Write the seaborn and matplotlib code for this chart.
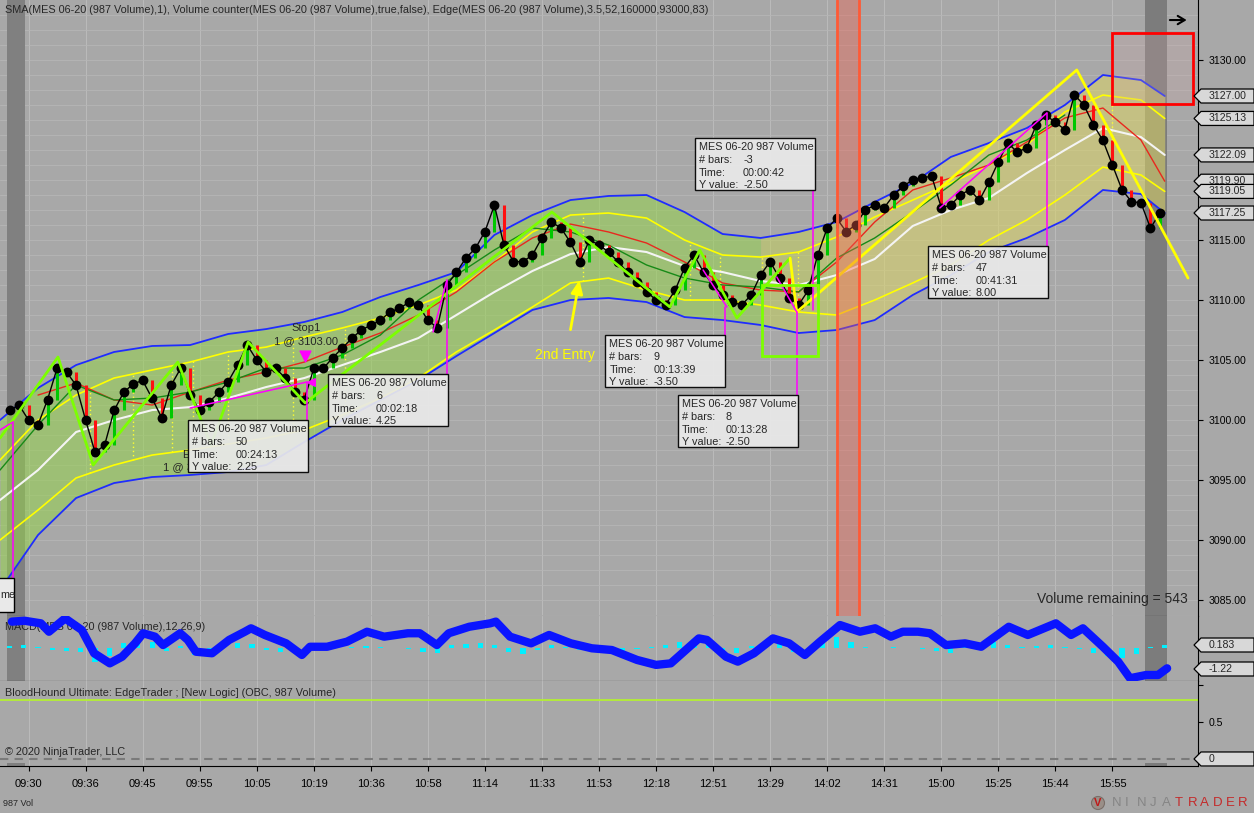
import numpy as np
import matplotlib
matplotlib.use("Agg")
import matplotlib.pyplot as plt
from matplotlib.patches import Rectangle, Polygon, Ellipse
from matplotlib.transforms import Bbox
import seaborn as sns

sns.set_style("white")
plt.rcParams['font.family'] = ['Liberation Sans', 'DejaVu Sans']

BG = '#a8a8a8'

# ---- price data (close every 2nd bar) ----
close_bars = list(range(2, 246, 2))
close_prices = [
    3100.8, 3101.25, 3100.0, 3099.6, 3101.7, 3104.3, 3104.0, 3102.9, 3100.0, 3097.3,
    3097.9, 3100.8, 3102.3, 3103.0, 3103.3, 3101.8, 3100.2, 3102.9, 3104.3, 3102.1,
    3100.8, 3101.5, 3102.3, 3103.2, 3104.6, 3106.25, 3105.0, 3104.0, 3104.3, 3103.5,
    3102.3, 3101.7, 3104.3, 3104.3, 3105.2, 3106.0, 3106.8, 3107.5, 3107.9, 3108.3,
    3109.0, 3109.3, 3109.8, 3109.6, 3108.3, 3107.7, 3111.25, 3112.3, 3113.5, 3114.3,
    3115.7, 3117.9, 3114.6, 3113.2, 3113.2, 3113.75, 3115.2, 3116.5, 3116.0, 3114.8,
    3113.2, 3115.0, 3114.6, 3114.0, 3113.2, 3112.3, 3111.5, 3110.7, 3110.0, 3109.6,
    3110.8, 3112.7, 3113.75, 3112.3, 3111.25, 3110.4, 3109.8, 3109.6, 3110.4, 3112.1,
    3113.2, 3111.8, 3110.2, 3109.6, 3110.8, 3113.75, 3116.0, 3116.8, 3115.7, 3116.25,
    3117.5, 3117.9, 3117.7, 3118.75, 3119.5, 3120.0, 3120.2, 3120.3, 3117.7, 3117.9,
    3118.75, 3119.2, 3118.3, 3119.8, 3121.5, 3123.1, 3122.3, 3122.7, 3124.6, 3125.4,
    3124.8, 3124.2, 3127.1, 3126.25, 3124.6, 3123.3, 3121.25, 3119.2, 3118.2, 3118.1,
    3116.0, 3117.25,
]

# ---- Edge bands ----
band_bars = [0, 8, 16, 24, 32, 40, 48, 56, 64, 72, 80, 88, 96, 104, 112, 120,
             128, 136, 144, 152, 160, 168, 176, 184, 192, 200, 208, 216, 224, 232, 240, 245]
blue_upper = [3100.0, 3102.67, 3104.58, 3105.67, 3106.17, 3106.25, 3107.17, 3107.58,
              3108.17, 3109.0, 3110.25, 3111.25, 3112.33, 3115.42, 3117.08, 3118.33,
              3118.67, 3118.75, 3117.33, 3115.5, 3115.17, 3115.67, 3116.5, 3118.17,
              3119.75, 3121.92, 3123.08, 3124.33, 3126.25, 3128.75, 3128.33, 3127.0]
blue_lower = [3085.83, 3090.42, 3093.5, 3094.75, 3095.25, 3095.42, 3095.67, 3096.25,
              3098.17, 3100.0, 3101.67, 3103.33, 3105.33, 3107.25, 3109.17, 3110.0,
              3110.17, 3109.83, 3108.58, 3108.33, 3107.92, 3107.25, 3107.5, 3108.33,
              3110.42, 3112.08, 3114.0, 3115.17, 3116.67, 3119.17, 3118.83, 3117.25]
mid_line = [3093.33, 3095.83, 3099.0, 3100.0, 3100.83, 3101.08, 3101.83, 3102.75,
            3103.5, 3104.58, 3105.67, 3106.83, 3108.75, 3110.67, 3112.42, 3113.83,
            3114.42, 3114.0, 3112.83, 3112.33, 3111.58, 3111.25, 3112.08, 3113.42,
            3116.17, 3117.5, 3118.5, 3120.58, 3122.5, 3124.33, 3123.58, 3122.09]
yellow_upper = [3096.67, 3100.0, 3102.08, 3103.5, 3104.17, 3104.83, 3105.67, 3106.08,
                3106.92, 3107.67, 3108.5, 3109.58, 3110.83, 3113.17, 3115.67, 3117.08,
                3117.25, 3116.83, 3115.0, 3113.75, 3113.58, 3114.0, 3115.25, 3116.92,
                3118.33, 3119.75, 3121.25, 3122.92, 3125.67, 3127.08, 3126.67, 3125.13]
yellow_lower = [3090.0, 3092.5, 3095.17, 3096.25, 3097.08, 3097.5, 3098.0, 3098.5,
                3099.17, 3100.42, 3101.83, 3103.5, 3105.67, 3107.5, 3109.42, 3111.42,
                3111.83, 3110.83, 3110.0, 3110.0, 3109.58, 3109.0, 3108.75, 3110.0,
                3111.42, 3112.92, 3115.0, 3116.67, 3118.75, 3121.08, 3120.42, 3119.05]
red_line = [np.nan, 3102.08, 3103.08, 3101.67, 3101.25, 3102.33, 3103.33, 3104.0,
            3104.83, 3106.08, 3107.25, 3108.75, 3110.67, 3113.17, 3115.17, 3116.33,
            3115.67, 3114.75, 3113.17, 3111.42, 3110.83, 3110.67, 3113.17, 3116.5,
            3119.17, 3120.17, 3121.25, 3123.17, 3125.17, 3126.0, 3123.33, 3119.9]
green_line = [3095.83, 3099.58, 3102.92, 3101.67, 3101.83, 3102.33, 3103.17, 3104.33,
              3104.33, 3105.42, 3107.08, 3110.0, 3112.08, 3114.17, 3116.0, 3115.67,
              3114.58, 3112.92, 3111.83, 3111.25, 3111.08, 3110.67, 3113.5, 3115.17,
              3117.33, 3119.58, 3122.08, 3123.33, 3125.42, np.nan, np.nan, np.nan]

# ---- MACD ----
macd_bars = [2.5, 5.2, 8.6, 10.3, 13.7, 17.2, 19.8, 23.1, 25.7, 28.4, 30.1, 32.6, 34.3,
             37.9, 39.5, 41.2, 44.6, 48.2, 51.5, 52.8, 55.7, 60.2, 63.5, 65.2, 68.8,
             73.0, 77.2, 80.8, 85.8, 88.3, 91.9, 94.4, 98.7, 103.1, 104.3, 107.3, 111.7,
             115.5, 120.1, 124.5, 128.7, 134.0, 138.0, 141.1, 147.0, 148.7, 152.7, 155.2,
             158.6, 162.6, 166.0, 169.3, 172.5, 176.7, 180.9, 184.1, 187.4, 189.9, 193.1,
             195.6, 199.0, 203.0, 206.4, 212.2, 216.2, 222.1, 225.3, 227.8, 232.0, 235.2,
             237.7, 241.1, 243.6, 245.5]
macd_values = [1.55, 1.60, 1.45, 0.96, 1.74, 1.06, -0.30, -0.89, -0.50, 0.28, 0.87, 0.67,
               0.18, 0.87, 0.48, -0.21, -0.30, 0.48, 0.96, 1.16, 0.77, 0.28, -0.40, 0.08,
               0.08, 0.38, 0.96, 0.67, 0.87, 0.87, 0.18, 0.87, 1.25, 1.45, 1.55, 0.67,
               0.28, 0.77, 0.28, -0.01, -0.11, -0.69, -0.98, -0.89, 0.57, 0.48, -0.50,
               -0.79, -0.30, 0.57, 0.28, -0.40, 0.38, 1.35, 0.96, 1.16, 0.67, 0.96, 0.96,
               0.87, 0.18, 0.28, 0.08, 1.25, 0.77, 1.45, 0.77, 1.16, 0.08, -0.79, -1.76,
               -1.57, -1.57, -1.18]
hist_bars = list(range(2, 246, 3))
hist_values = [0.12, 0.18, 0.06, -0.12, -0.18, -0.23, -0.82, -0.47, 0.29, 0.53,
               0.35, -0.18, 0.12, -0.41, -0.29, 0.18, 0.29, 0.23, -0.12, -0.23,
               -0.29, 0.12, 0.18, 0.06, 0.06, 0.12, 0.06, 0.0, -0.06, -0.23,
               -0.29, 0.18, 0.23, 0.29, 0.18, -0.23, -0.35, -0.12, 0.18, 0.06,
               -0.12, -0.23, -0.29, -0.18, -0.06, 0.06, 0.18, 0.35, 0.53, 0.23,
               -0.18, -0.29, 0.12, 0.41, 0.23, -0.23, -0.35, 0.29, 0.64, 0.35,
               0.06, 0.0, 0.06, 0.0, -0.06, -0.18, -0.29, 0.12, 0.23, 0.35,
               0.18, 0.06, 0.12, 0.18, 0.06, -0.06, -0.29, -0.47, -0.58, -0.35,
               0.06, 0.18]
bloodhound_level = 0.8

# ---- x axis ----
tick_bars = list(range(6, 235, 12))
tick_labels = ['09:30', '09:36', '09:45', '09:55', '10:05', '10:19', '10:36', '10:58',
               '11:14', '11:33', '11:53', '12:18', '12:51', '13:29', '14:02', '14:31',
               '15:00', '15:25', '15:44', '15:55']

# ---- drawing objects ----
zigzag_bars = [0.0, 12.2, 19.6, 37.4, 44.4, 52.2, 64.2, 116.1, 140.9, 147.2, 155.0, 166.2]
zigzag_prices = [3098.5, 3105.25, 3096.25, 3104.83, 3097.92, 3106.5, 3101.42, 3117.33,
                 3109.42, 3114.17, 3108.5, 3113.5]
trend_bars = [166.2, 167.6, 226.5, 249.9]
trend_prices = [3113.5, 3109.0, 3129.17, 3111.83]
ruler_segments = [
    (0.0, 3099.17, 2.7, 3099.83), (2.7, 3099.83, 2.7, 3086.83),
    (40.0, 3101.0, 64.6, 3103.17), (64.6, 3103.17, 64.6, 3100.0),
    (91.1, 3107.33, 94.0, 3111.67), (94.0, 3111.67, 94.0, 3103.83),
    (171.0, 3119.17, 171.0, 3109.17),
    (147.9, 3112.5, 152.9, 3109.42), (152.5, 3109.42, 152.5, 3107.08),
    (163.4, 3111.92, 167.6, 3109.0), (167.6, 3109.0, 167.6, 3102.08),
    (197.7, 3117.67, 220.2, 3125.58), (220.2, 3125.58, 220.2, 3114.5),
]
info_boxes = [
    (39.55, 3100.0, '50', '00:24:13', '2.25'),
    (69.0, 3103.83, '6', '00:02:18', '4.25'),
    (146.2, 3123.5, '-3', '00:00:42', '-2.50'),
    (127.3, 3107.08, '9', '00:13:39', '-3.50'),
    (142.6, 3102.08, '8', '00:13:28', '-2.50'),
    (195.2, 3114.5, '47', '00:41:31', '8.00'),
]
dotted_bars = [18.9, 28.0, 36.2, 40.6, 48.0, 61.6, 72.6, 122.6, 145.1, 151.5, 160.3,
               167.9, 233.9]
price_flags = [3127.00, 3125.13, 3122.09, 3119.90, 3119.05, 3117.25]
macd_flags = [0.183, -1.22]

fig = plt.figure(figsize=(12.54, 8.13), dpi=100, facecolor=BG)
ax = fig.add_axes([0, 0.24231, 0.95534, 0.75769])
axm = fig.add_axes([0, 0.16236, 0.95534, 0.07995], sharex=ax)
axb = fig.add_axes([0, 0.05781, 0.95534, 0.10455], sharex=ax)

for a in (ax, axm, axb):
    a.set_facecolor(BG)
    for s in a.spines.values():
        s.set_visible(False)
    a.spines['right'].set_visible(True)
    a.spines['bottom'].set_visible(True)
    a.spines['right'].set_color('black')
    a.spines['bottom'].set_color('black')
    for tb in tick_bars:
        a.axvline(tb, color='#bababa', lw=0.8, zorder=0)

ax.set_xlim(0, 252)
ax.set_ylim(3083.67, 3135)
axm.set_ylim(-1.922, 1.879)
axb.set_ylim(-0.095, 1.054)

for lev in np.arange(3083.75, 3135, 1.25):
    ax.axhline(lev, color='#b6b6b6', lw=0.6, zorder=0)

# session stripes
for a in (ax, axm):
    a.axvspan(1.5, 5.3, color='#808080', lw=0, zorder=0.5)
    a.axvspan(240.8, 245.5, color='#7c7c7c', lw=0, zorder=0.5)
axb.axvspan(1.5, 5.3, ymax=0.04, color='#808080', lw=0, zorder=0.5)
axb.axvspan(240.8, 245.5, ymax=0.04, color='#7c7c7c', lw=0, zorder=0.5)

# band fill
ax.fill_between(band_bars[:21], blue_upper[:21], blue_lower[:21], color='#95d24c', alpha=0.55, lw=0, zorder=1)
ax.fill_between(band_bars[20:23], blue_upper[20:23], blue_lower[20:23], color='#c2d05a', alpha=0.55, lw=0, zorder=1)
ax.fill_between(band_bars[22:], blue_upper[22:], blue_lower[22:], color='#dcd466', alpha=0.55, lw=0, zorder=1)

for b in dotted_bars:
    y0 = np.interp(b, band_bars, yellow_upper)
    y1 = np.interp(b, band_bars, yellow_lower)
    ax.vlines(b, y1, y0, colors='#ffff30', linestyles=(0, (1, 2)), lw=1, zorder=1.5)

for vals, col, lw in [(blue_upper, '#1f2cff', 1.3), (blue_lower, '#1f2cff', 1.3),
                      (yellow_upper, '#ffff00', 1.2), (yellow_lower, '#ffff00', 1.2),
                      (mid_line, '#f4f4f4', 1.5), (red_line, '#e8281e', 1.0),
                      (green_line, '#178a17', 1.0)]:
    sns.lineplot(x=band_bars, y=vals, color=col, lw=lw, ax=ax, estimator=None,
                 sort=False, zorder=2, legend=False)

# candles + SMA(1) dots
opens = [close_prices[0]] + close_prices[:-1]
colors = ['#00c800' if c >= o else '#ff1010' for o, c in zip(opens, close_prices)]
ax.vlines(close_bars, opens, close_prices, colors=colors, lw=2.2, zorder=3)
sns.lineplot(x=close_bars, y=close_prices, color='black', lw=1.0, ax=ax, estimator=None,
             sort=False, zorder=3.5, legend=False)
sns.scatterplot(x=close_bars, y=close_prices, s=50, color='black', linewidth=0,
                ax=ax, zorder=4, legend=False)

# drawing tools
ax.plot(zigzag_bars, zigzag_prices, color='#7cff00', lw=2, zorder=5)
ax.plot(trend_bars, trend_prices, color='#ffff00', lw=2, zorder=5)
for b0, p0, b1, p1 in ruler_segments:
    ax.plot([b0, b1], [p0, p1], color='#ff00ff', lw=1.1, zorder=5)
ax.add_patch(Rectangle((160.3, 3105.33), 11.8, 5.92, fill=False, ec='#7cff00', lw=2, zorder=5))
ax.add_patch(Rectangle((233.9, 3126.33), 17.1, 5.92, fc=(0.8, 0.65, 0.65, 0.25), ec='#ff0000', lw=2, zorder=5))

ax.axvspan(176.1, 180.7, fc='#f06050', alpha=0.4, lw=0, zorder=6)
for xb in (176.1, 180.7):
    ax.axvline(xb, color='#ff5a36', lw=2, zorder=6)

ax.scatter([64.2], [3105.33], marker='v', s=60, color='#ff00ff', zorder=6)
ax.scatter([65.4], [3103.17], marker='<', s=30, color='#ff00ff', zorder=6)
ax.text(64.4, 3107.67, 'Stop1', ha='center', va='center', fontsize=8, zorder=6)
ax.text(64.4, 3106.58, '1 @ 3103.00', ha='center', va='center', fontsize=8, zorder=6)

ax.annotate('', xy=(122.0, 3111.9), xytext=(119.9, 3107.3),
            arrowprops=dict(arrowstyle='-|>,head_width=0.35,head_length=0.8', color='#ffff00', lw=2),
            zorder=7)
ax.text(118.8, 3105.42, '2nd Entry', color='#ffff00', fontsize=10, ha='center', va='center', zorder=7)
ax.annotate('', xy=(250.2, 3133.33), xytext=(245.5, 3133.33),
            arrowprops=dict(arrowstyle='->,head_width=0.3,head_length=0.5', color='black', lw=1.5),
            zorder=7)

# info boxes
bw, bh = 25.24, 4.333
for b0, ptop, nb, tm, yv in info_boxes:
    ax.add_patch(Rectangle((b0, ptop - bh), bw, bh, fc='#e9e9e9', ec='black', lw=1,
                           alpha=0.93, zorder=8))
    ax.text(b0 + 0.85, ptop - 0.75, 'MES 06-20 987 Volume', fontsize=7.8, va='center', zorder=9)
    for k, (lab, val) in enumerate([('# bars:', nb), ('Time:', tm), ('Y value:', yv)]):
        yy = ptop - 1.83 - 1.05 * k
        ax.text(b0 + 0.85, yy, lab, fontsize=7.8, va='center', zorder=9)
        ax.text(b0 + 10.1, yy, val, fontsize=7.8, va='center', zorder=9)
ax.add_patch(Rectangle((-0.5, 3084.0), 3.4, 2.83, fc='#e9e9e9', ec='black', lw=1, zorder=8))
ax.text(0.05, 3085.4, 'me', fontsize=7.8, va='center', zorder=9, clip_on=True)

ax.text(5 / 1198, 1 - 10 / 616,
        'SMA(MES 06-20 (987 Volume),1), Volume counter(MES 06-20 (987 Volume),true,false), '
        'Edge(MES 06-20 (987 Volume),3.5,52,160000,93000,83)',
        transform=ax.transAxes, fontsize=7.8, va='center', ha='left', zorder=9)
ax.text(1188 / 1198, 1 - 599 / 616, 'Volume remaining = 543', transform=ax.transAxes,
        fontsize=10, ha='right', va='center', zorder=9)

# MACD panel
axm.bar(hist_bars, hist_values, width=1.1, color='#00f0ff', lw=0, zorder=2)
axm.text(5 / 1198, 1 - 11 / 65, 'MACD(MES 06-20 (987 Volume),12,26,9)', transform=axm.transAxes,
         fontsize=7.8, va='center', zorder=1)
sns.lineplot(x=macd_bars, y=macd_values, color='#0a14ff', lw=6, ax=axm, estimator=None,
             sort=False, zorder=3, legend=False, solid_capstyle='round', solid_joinstyle='round')

# BloodHound panel
axb.axhline(bloodhound_level, color='#b4f032', lw=1.3, zorder=2)
axb.axhline(0, color='#7a7a7a', lw=1.5, ls=(0, (4, 3)), zorder=2)
axb.text(5 / 1198, 1 - 12 / 85, 'BloodHound Ultimate: EdgeTrader ; [New Logic] (OBC, 987 Volume)',
         transform=axb.transAxes, fontsize=7.8, va='center')
axb.text(5 / 1198, 1 - 71 / 85, '\u00a9 2020 NinjaTrader, LLC', transform=axb.transAxes,
         fontsize=7.8, va='center')

# ticks
ax.yaxis.tick_right()
main_ticks = [3085, 3090, 3095, 3100, 3105, 3110, 3115, 3130]
ax.set_yticks(main_ticks)
ax.set_yticklabels([f'{v:.2f}' for v in main_ticks])
ax.tick_params(axis='y', right=True, left=False, length=3.6, width=0.8, pad=4,
               labelsize=7.6, colors='black')
ax.tick_params(axis='x', bottom=False, labelbottom=False)
axm.set_yticks([])
axm.tick_params(axis='x', bottom=False, labelbottom=False)
axb.yaxis.tick_right()
axb.set_yticks([0, 0.5, 1.0])
axb.set_yticklabels(['', '0.5', ''])
axb.tick_params(axis='y', right=True, left=False, length=3.6, width=0.8, pad=4,
                labelsize=7.6, colors='black')
axb.set_xticks(tick_bars)
axb.set_xticklabels(tick_labels)
axb.tick_params(axis='x', bottom=True, length=3.6, width=0.8, pad=5.8, labelsize=8,
                colors='black')
for a in (ax, axm, axb):
    a.set_xlabel('')
    a.set_ylabel('')

fig.canvas.draw()
inv = fig.transFigure.inverted()
W, H = 1254.0, 813.0

# entry label, partly hidden by the info box (clip at the box's left edge)
box_left_px = ax.transData.transform((info_boxes[0][0], 0))[0]
clip = Bbox.from_extents(0, 0, box_left_px, H)
for yy, txt in [(3097.08, 'Entry'), (3096.08, '1 @ 3100.00')]:
    t = ax.text(41.0, yy, txt, ha='center', va='center', fontsize=8, zorder=6)
    t.set_clip_box(clip)
    t.set_clip_on(True)


def flag(axx, val, txt):
    yf = inv.transform(axx.transData.transform((0, val)))[1]
    hh = 7 / H
    pts = [(1194 / W, yf), (1201 / W, yf + hh), (1.0, yf + hh), (1.0, yf - hh), (1201 / W, yf - hh)]
    fig.add_artist(Polygon(pts, closed=True, fc='#d8d8d8', ec='black', lw=0.9,
                           transform=fig.transFigure, zorder=20))
    fig.text(1209 / W, yf, txt, fontsize=7.6, va='center', ha='left', zorder=21)


for v in price_flags:
    flag(ax, v, f'{v:.2f}')
for v in macd_flags:
    flag(axm, v, f'{v:.3g}')
flag(axb, 0, '0')

fig.text(3 / W, 1 - 803 / H, '987 Vol', fontsize=6.5, va='center')
# NinjaTrader logo
fig.add_artist(Ellipse((1098 / W, 1 - 803 / H), 13 / W, 13 / H, fc='#9a8f88', ec='#7a6e68',
                       lw=0.8, transform=fig.transFigure))
fig.text(1098 / W, 1 - 803 / H, 'V', fontsize=8, color='#c01818', ha='center', va='center',
         fontweight='bold')
for i, ch in enumerate('NINJATRADER'):
    fig.text((1112 + 12.6 * i) / W, 1 - 803 / H, ch, fontsize=9.5,
             color='#858585' if i < 5 else '#c42a2a', va='center', ha='left')

fig.savefig('out.png', dpi=100, facecolor=BG)
